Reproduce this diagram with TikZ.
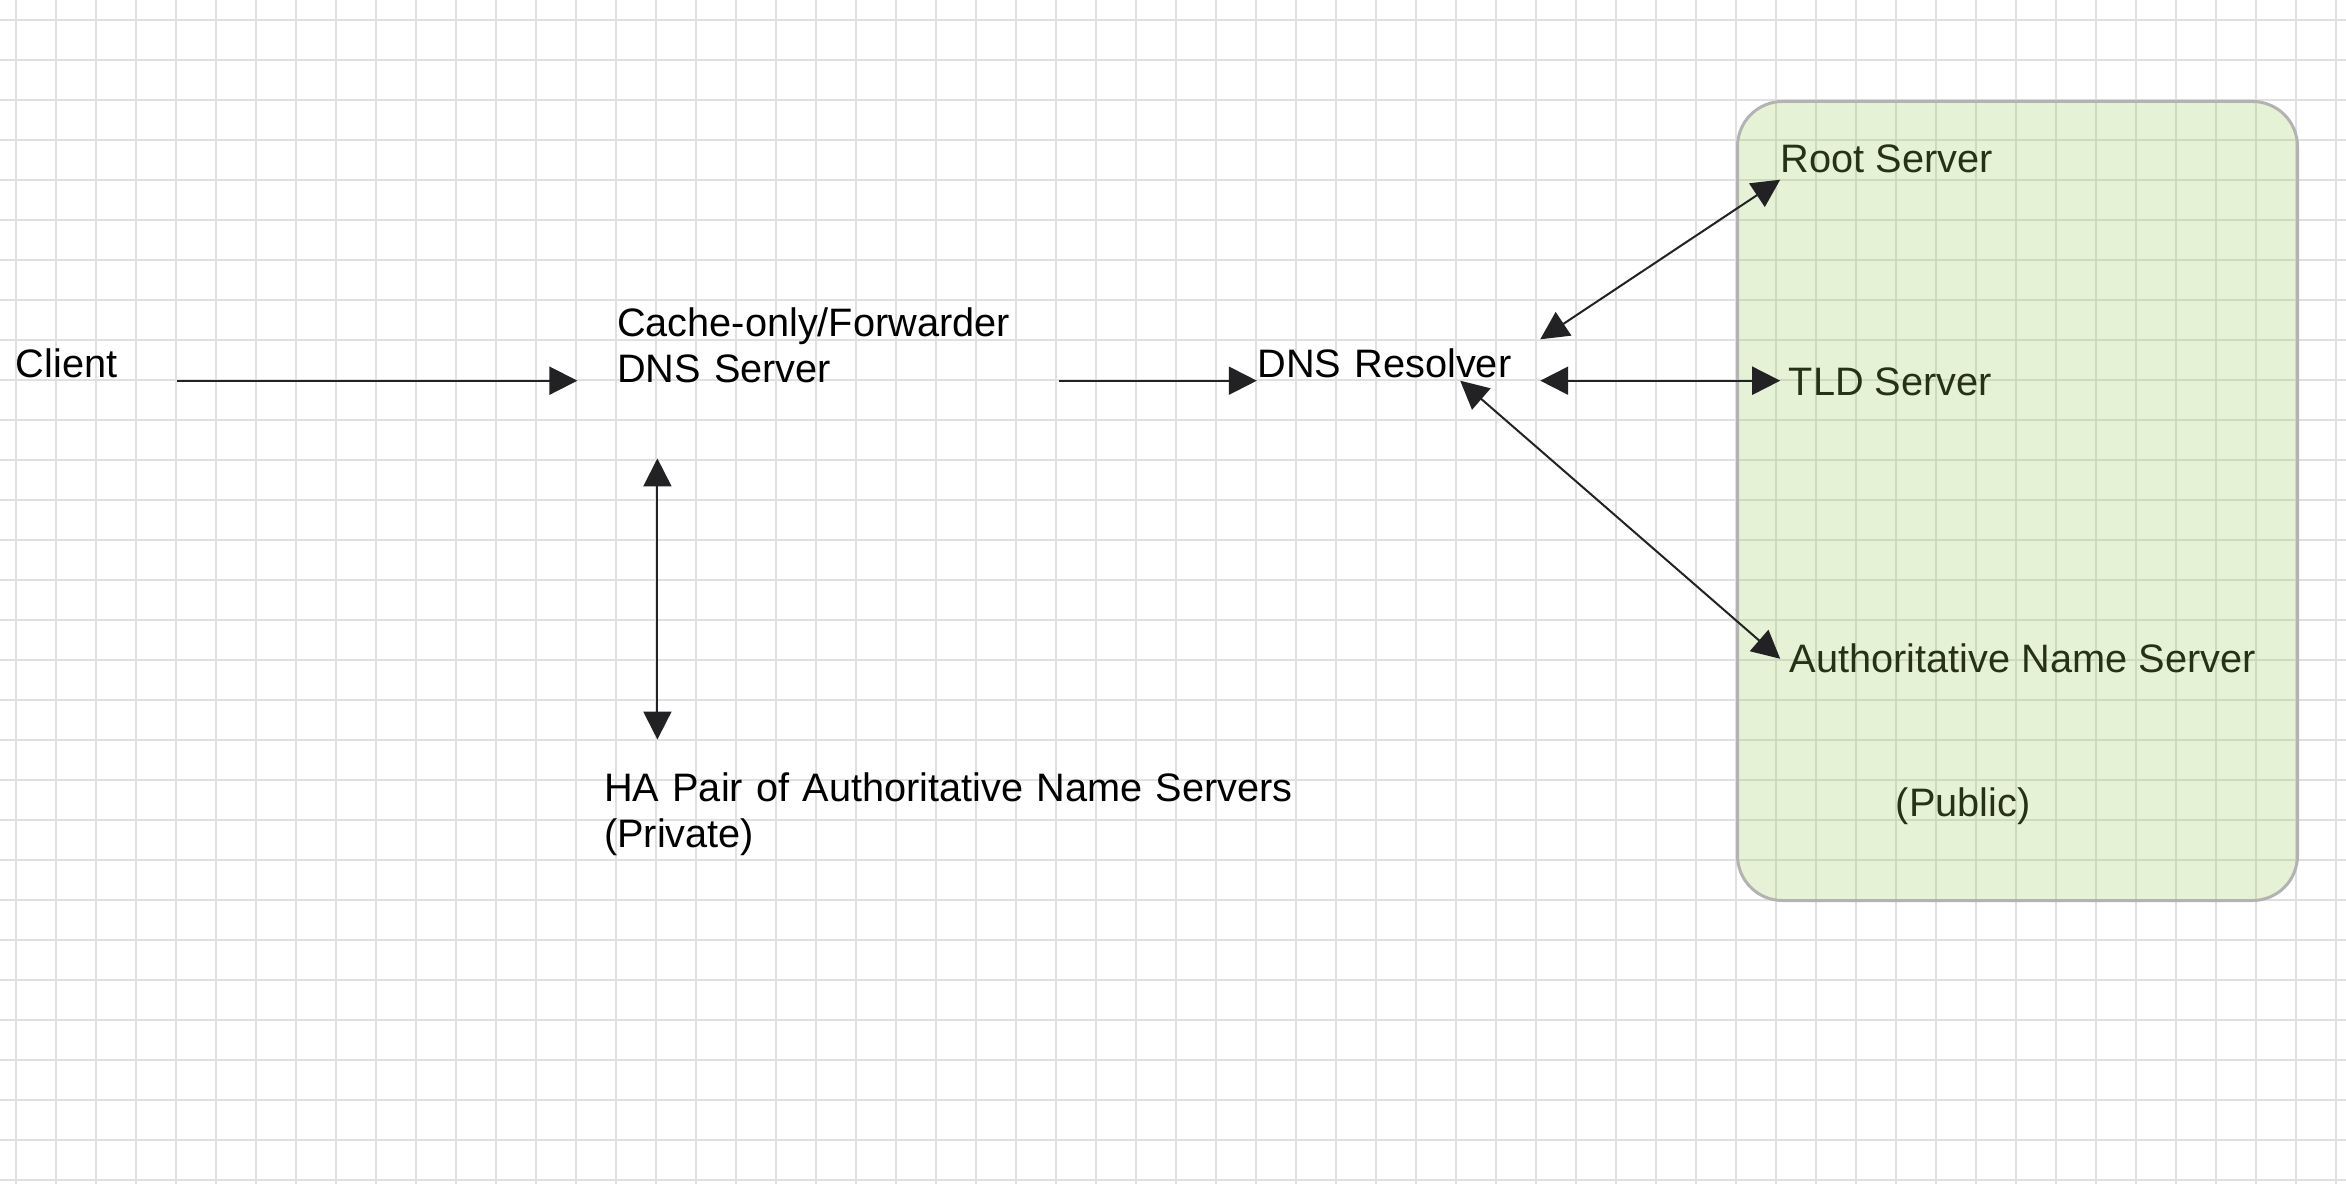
\documentclass[tikz,border=0pt]{standalone}
\usepackage{fontspec}
\setmainfont{Liberation Sans}
\usetikzlibrary{%
  arrows.meta,
  positioning,
  calc
}
\definecolor{linecol}{RGB}{34,34,37}
\definecolor{gridcol}{RGB}{224,224,224}
\definecolor{publicfill}{RGB}{155,203,87}
\definecolor{publicedge}{RGB}{179,179,179}
\tikzstyle{txt} = [inner sep=0pt, font=\fontsize{11.3}{12.9}\selectfont, text=black]
\tikzstyle{conn} = [draw=linecol, line width=0.02cm]
\tikzstyle{gridline} = [draw=gridcol, line width=0.02cm]
\tikzstyle{publicbox} = [draw=publicedge, line width=0.03cm, fill=publicfill, fill opacity=0.25, rounded corners=0.45cm, minimum width=5.6cm, minimum height=7.99cm]
\begin{document}
\begin{tikzpicture}[>={Triangle[length=0.28cm,width=0.28cm]}]
        \useasboundingbox (0,0) rectangle (23.46,-11.84);
        % grid
        \draw[gridline, shift={(0.16,-0.2)}] (-0.16,0.2) grid[step=0.4] (23.3,-11.64);
        % nodes
        \node[txt, text width=1.61cm, anchor=base west] (client) at (0.15,-3.78) {Client};
        \node[txt, text width=4.02cm, inner xsep=0.39cm, inner ysep=0.75cm, above right=0.41cm and 4.0cm of client.base east, anchor=base west] (cache) {Cache-only/Forwarder\\DNS Server};
        \node[txt, text width=2.82cm, text height=0.38cm, text depth=0.02cm, below right=0.41cm and 1.98cm of cache.base east, anchor=base west] (resolver) {DNS Resolver};
        \node[txt, text width=7.2cm, inner xsep=0.26cm, inner ysep=0.33cm, below=4.65cm of cache.base west, anchor=base west] (hapair) {HA Pair of Authoritative Name Servers\\(Private)};
        \node[txt, inner xsep=0.0cm, text depth=0.06cm, above right=2.05cm and 2.40cm of resolver.base east, anchor=base west] (root) {Root Server};
        \node[txt, inner xsep=0.08cm, below right=0.18cm and 2.40cm of resolver.base east, anchor=base west] (tld) {TLD Server};
        \node[txt, inner xsep=0.09cm, below right=2.95cm and 2.40cm of resolver.base east, anchor=base west] (auth) {Authoritative Name Server};
        \node[txt, below right=1.44cm and 1.15cm of auth.base west, anchor=base west] (public) {(Public)};
        \node[publicbox, anchor=north west] (publicarea) at (17.36,-1.0) {};
        % connectors
        \draw[conn, ->] (client.base east |- resolver.south) -- (cache.west |- resolver.south);
        \draw[conn, ->] (cache.east |- resolver.south) -- (resolver.south west);
        \draw[conn, <->] ([xshift=0.8cm]cache.south west) -- ([xshift=0.8cm]hapair.north west);
        \draw[conn, <->] (resolver.north east) -- (root.south west);
        \draw[conn, <->] (resolver.south east) -- (tld.west |- resolver.south);
        \draw[conn, <->] ([xshift=-0.8cm]resolver.south east) -- (auth.west);
\end{tikzpicture}
\end{document}
